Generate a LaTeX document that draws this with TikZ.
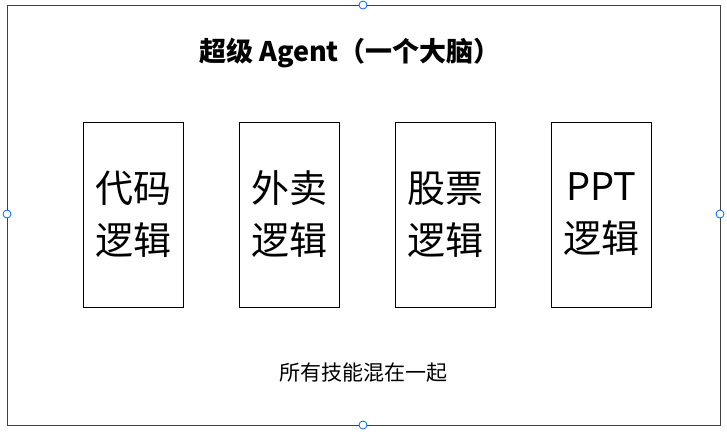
\documentclass[tikz,border=0pt]{standalone}
\usepackage{fontspec}
\setmainfont{Noto Sans CJK SC}
\begin{document}
\begin{tikzpicture}[x=1pt,y=-1pt,
  skill/.style={draw=black,line width=1pt,minimum width=100pt,minimum height=185pt,font=\fontsize{38}{52}\selectfont,align=center,inner sep=0pt},
  handle/.style={circle,draw=blue!60!cyan,fill=white,line width=0.8pt,minimum size=8pt,inner sep=0pt}]
\useasboundingbox (0,0) rectangle (727,432);
\draw[draw=black!75,line width=0.8pt] (7,5) rectangle (720,425);
\node[font=\fontsize{27}{30}\selectfont\bfseries] (title) at (350,53) {超级 Agent（一个大脑）};
\node[skill] (a) at (133,214.5) {代码\\逻辑};
\node[skill] (b) at (289,214.5) {外卖\\逻辑};
\node[skill] (c) at (445,214.5) {股票\\逻辑};
\node[skill] (d) at (601,214.5) {PPT\\逻辑};
\node[font=\fontsize{21}{24}\selectfont] (note) at (363,373) {所有技能混在一起};
\node[handle] (h1) at (363,5) {};
\node[handle] (h2) at (7,214) {};
\node[handle] (h3) at (720,214) {};
\node[handle] (h4) at (363,425) {};
\end{tikzpicture}
\end{document}
